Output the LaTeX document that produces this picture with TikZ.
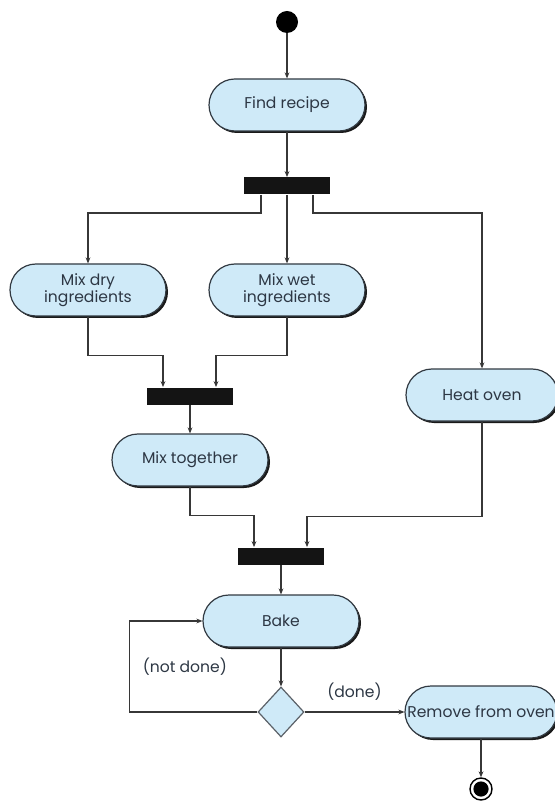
\documentclass[tikz,border=0pt]{standalone}
\usepackage{fontspec}
\setmainfont{Poppins}
\usepackage{tikz}
\usetikzlibrary{shapes.geometric, shadows, arrows.meta}
\definecolor{actfill}{RGB}{207,234,248}
\definecolor{actline}{RGB}{50,58,66}
\definecolor{acttext}{RGB}{45,55,68}
\definecolor{flowline}{RGB}{55,55,55}
\newcommand{\actfont}{\fontsize{7.8}{8.8}\selectfont}

\tikzset{
    activity/.style={draw=actline, line width=0.6pt, fill=actfill, text=acttext,
        rounded corners=13pt, minimum width=78pt, minimum height=26pt,
        align=center, inner sep=1pt, font=\actfont,
        drop shadow={shadow xshift=1pt, shadow yshift=-1pt, fill=black, opacity=0.9}},
    syncbar/.style={fill=black!92, minimum width=43pt, minimum height=8.5pt, inner sep=0pt},
    decision/.style={diamond, draw=actline!80, line width=0.6pt, fill=actfill,
        minimum width=23pt, minimum height=25pt, inner sep=0pt},
    startdot/.style={circle, fill=black, minimum size=11pt, inner sep=0pt},
    enddot/.style={circle, draw=black, line width=0.7pt, minimum size=11pt, inner sep=0pt},
    flow/.style={draw=flowline, line width=0.7pt, -{Stealth[length=3pt, width=2.4pt]}},
    guard/.style={font=\actfont, text=acttext}
}

\begin{document}
\begin{tikzpicture}[x=0.5pt, y=-0.5pt]
        \useasboundingbox (0,0) rectangle (554,801);

        \node[startdot] (start) at (287,22) {};
        \node[activity] (find) at (287,105) {Find recipe};
        \node[syncbar] (fork) at (287,186) {};

        \node[activity] (dry) at (88,290) {Mix dry\\ingredients};
        \node[activity] (wet) at (287,290) {Mix wet\\ingredients};
        \node[activity, minimum width=76pt] (heat) at (482,395) {Heat oven};

        \node[syncbar] (join) at (190,396) {};
        \node[activity] (mix) at (190,460) {Mix together};
        \node[syncbar] (joinb) at (281,556) {};

        \node[activity] (bake) at (281,621) {Bake};
        \node[decision] (check) at (281,712) {};
        \node[activity, minimum width=76pt] (remove) at (481,712) {Remove from oven};
        \node[enddot] (stop) at (481,789) {};
        \fill (stop) circle (3.8pt);

        \draw[flow] (start) -- (find);
        \draw[flow] (find) -- (fork);
        \draw[flow]
        ([xshift=-13pt]fork.south) -- ++(0,18) -| (dry.north);
        \draw[flow] (fork) -- (wet);
        \draw[flow]
        ([xshift=13pt]fork.south) -- ++(0,18) -| (heat.north);

        \draw[flow]
        (dry.south) -- ++(0,39) -| ([xshift=-13.5pt]join.north);
        \draw[flow]
        (wet.south) -- ++(0,39) -| ([xshift=13pt]join.north);
        \draw[flow] (join) -- (mix);

        \draw[flow]
        (mix.south) -- ++(0,29) -| ([xshift=-13.5pt]joinb.north);
        \draw[flow]
        (heat.south) -- ++(0,95) -| ([xshift=13pt]joinb.north);
        \draw[flow] (joinb) -- (bake);

        \draw[flow] (bake) -- (check);
        \draw[flow]
        (check.west) -- ++(-128,0) |- node[guard, pos=0.25, right=3pt] {(not done)} (bake.west);
        \draw[flow]
        (check.east) -- node[guard, above=2pt] {(done)} (remove.west);
        \draw[flow] (remove) -- (stop);

    \end{tikzpicture}
\end{document}
